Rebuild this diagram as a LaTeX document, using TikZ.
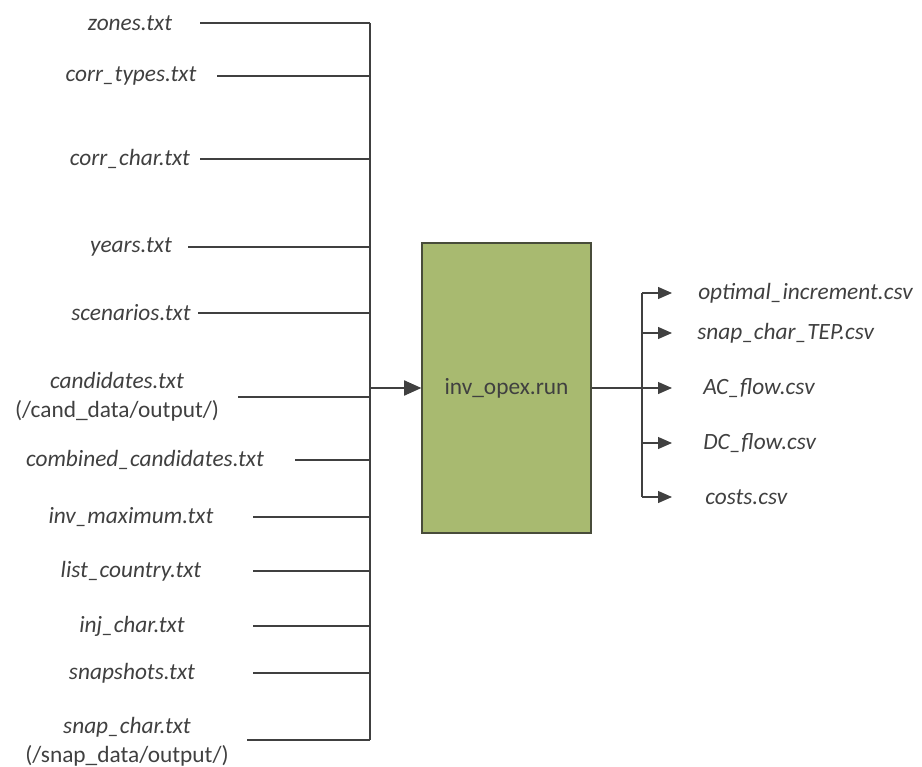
\documentclass[tikz,border=0pt]{standalone}
\usepackage{fontspec}
\setmainfont{Carlito}
\usetikzlibrary{arrows.meta}

\definecolor{boxgreen}{RGB}{168,186,112}
\definecolor{boxedge}{RGB}{72,76,58}
\definecolor{inkgray}{RGB}{64,64,64}

\tikzset{
    filelabel/.style={font=\fontsize{17.5}{22}\selectfont\itshape, text=inkgray, align=center, inner sep=0pt},
    outlabel/.style={filelabel, anchor=west},
    wire/.style={draw=inkgray, line width=0.9pt},
    feed/.style={wire, -{Triangle[length=13pt,width=11.5pt]}},
    spout/.style={wire, -{Triangle[length=10.5pt,width=9pt]}},
}

\begin{document}
\begin{tikzpicture}[x=0.75pt, y=-0.75pt]
        \useasboundingbox (0,0) rectangle (922,767);

        % Input file names
        \node[filelabel] (zones) at (130,23) {zones.txt};
        \node[filelabel] (corrtypes) at (131,76) {corr\_types.txt};
        \node[filelabel] (corrchar) at (130,159) {corr\_char.txt};
        \node[filelabel] (years) at (131,247) {years.txt};
        \node[filelabel] (scenarios) at (131,313) {scenarios.txt};
        \node[filelabel] (candidates) at (117,397) {candidates.txt\\\upshape(/cand\_data/output/)};
        \node[filelabel] (combined) at (145,460) {combined\_candidates.txt};
        \node[filelabel] (invmax) at (131,517) {inv\_maximum.txt};
        \node[filelabel] (country) at (131,571) {list\_country.txt};
        \node[filelabel] (injchar) at (132,626) {inj\_char.txt};
        \node[filelabel] (snapshots) at (132,673) {snapshots.txt};
        \node[filelabel] (snapchar) at (127,742) {snap\_char.txt\\\upshape(/snap\_data/output/)};

        % Where each input line starts
        \coordinate (s1) at (200,23);
        \coordinate (s2) at (217,76);
        \coordinate (s3) at (200,159);
        \coordinate (s4) at (188,247);
        \coordinate (s5) at (198,313);
        \coordinate (s6) at (238,397);
        \coordinate (s7) at (295,460);
        \coordinate (s8) at (253,517);
        \coordinate (s9) at (253,571);
        \coordinate (s10) at (253,626);
        \coordinate (s11) at (253,673);
        \coordinate (s12) at (247,740);

        % The collecting bus
        \coordinate (b1) at (370,23);
        \coordinate (b2) at (370,76);
        \coordinate (b3) at (370,159);
        \coordinate (b4) at (370,247);
        \coordinate (b5) at (370,313);
        \coordinate (b6) at (370,397);
        \coordinate (b7) at (370,460);
        \coordinate (b8) at (370,517);
        \coordinate (b9) at (370,571);
        \coordinate (b10) at (370,626);
        \coordinate (b11) at (370,673);
        \coordinate (b12) at (370,740);
        \coordinate (bin) at (370,388);

        % Model run
        \node[draw=boxedge, line width=1pt, fill=boxgreen, minimum width=169*0.75pt,
              minimum height=290*0.75pt, font=\fontsize{17.5}{22}\selectfont, text=inkgray]
              (run) at (506.5,388) {inv\_opex.run};

        % Output file names
        \node[outlabel] (optinc) at (698,293) {optimal\_increment.csv};
        \node[outlabel] (snaptep) at (697,333) {snap\_char\_TEP.csv};
        \node[outlabel] (acflow) at (703,388) {AC\_flow.csv};
        \node[outlabel] (dcflow) at (703,443) {DC\_flow.csv};
        \node[outlabel] (costs) at (705,497) {costs.csv};

        \coordinate (o1) at (642,293);
        \coordinate (o2) at (642,333);
        \coordinate (o3) at (642,388);
        \coordinate (o4) at (642,443);
        \coordinate (o5) at (642,497);
        \coordinate (t1) at (672,293);
        \coordinate (t2) at (672,333);
        \coordinate (t3) at (672,388);
        \coordinate (t4) at (672,443);
        \coordinate (t5) at (672,497);

        \begin{scope}
            \draw[wire] (s1) -- (b1);
            \draw[wire] (s2) -- (b2);
            \draw[wire] (s3) -- (b3);
            \draw[wire] (s4) -- (b4);
            \draw[wire] (s5) -- (b5);
            \draw[wire] (s6) -- (b6);
            \draw[wire] (s7) -- (b7);
            \draw[wire] (s8) -- (b8);
            \draw[wire] (s9) -- (b9);
            \draw[wire] (s10) -- (b10);
            \draw[wire] (s11) -- (b11);
            \draw[wire] (s12) -- (b12);
            \draw[wire] (b1) -- (b12);
            \draw[feed] (bin) -- (run.west);
        \end{scope}

        \begin{scope}
            \draw[wire] (run.east) -- (o3);
            \draw[wire] (o1) -- (o5);
            \draw[spout] (o1) -- (t1);
            \draw[spout] (o2) -- (t2);
            \draw[spout] (o3) -- (t3);
            \draw[spout] (o4) -- (t4);
            \draw[spout] (o5) -- (t5);
        \end{scope}

\end{tikzpicture}
\end{document}
